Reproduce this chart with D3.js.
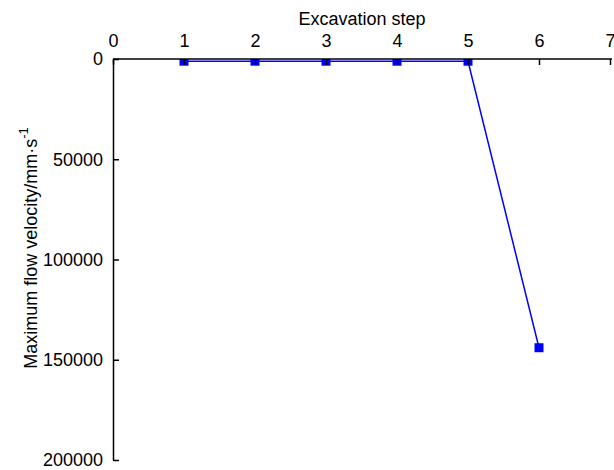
<!DOCTYPE html>
<html>
<head>
<meta charset="utf-8">
<script src="https://cdn.jsdelivr.net/npm/d3@7"></script>
<style>
  body { margin: 0; background: #fff; }
  text { font-family: "Liberation Sans", Arial, sans-serif; }
</style>
</head>
<body>
<div id="chart-area"></div>
<script>
var steps = [1, 2, 3, 4, 5, 6]
var velocity = [1100, 1100, 1100, 1100, 1100, 144000]
var xTicks = [0, 1, 2, 3, 4, 5, 6, 7]
var yTicks = [0, 50000, 100000, 150000, 200000]

var margin = { left: 113, right: 2, top: 59, bottom: 10 }
var ab_width = 614
var ab_height = 470
var width = ab_width - margin.left - margin.right,
    height = ab_height - margin.top - margin.bottom;

var svg = d3.select('#chart-area')
    .append('svg')
    .attr('width', ab_width)
    .attr('height', ab_height)

var g = svg.append('g')
    .attr('transform', 'translate(' + margin.left + ', ' + margin.top + ')');

var x = d3.scaleLinear().domain([0, 7]).range([0, 497])
var y = d3.scaleLinear().domain([0, 200000]).range([0, 401])

// top axis, ticks pointing into the plot
var xAxis = g.append('g')
    .call(d3.axisTop(x).tickValues(xTicks).tickFormat(d3.format('d')).tickSize(-6).tickPadding(12).tickSizeOuter(0))
xAxis.select('.domain').attr('stroke', '#000').attr('stroke-width', 1.5)
    .attr('d', 'M0,0H' + width)
xAxis.selectAll('.tick line').attr('stroke', '#000').attr('stroke-width', 1.5)
xAxis.selectAll('.tick text').attr('font-size', 18).attr('fill', '#000')
    .attr('font-family', '"Liberation Sans", Arial, sans-serif')

var yAxis = g.append('g')
    .call(d3.axisLeft(y).tickValues(yTicks).tickFormat(d3.format('d')).tickSize(-6).tickPadding(10).tickSizeOuter(0))
yAxis.select('.domain').attr('stroke', '#000').attr('stroke-width', 1.5)
yAxis.selectAll('.tick line').attr('stroke', '#000').attr('stroke-width', 1.5)
yAxis.selectAll('.tick text').attr('font-size', 18).attr('fill', '#000')
    .attr('font-family', '"Liberation Sans", Arial, sans-serif')

// titles
svg.append('text')
    .attr('x', 362)
    .attr('y', 25)
    .attr('text-anchor', 'middle')
    .attr('font-size', 18)
    .text('Excavation step')

var yl = svg.append('text')
    .attr('transform', 'translate(37, 248) rotate(-90)')
    .attr('text-anchor', 'middle')
    .attr('font-size', 18)
yl.append('tspan').text('Maximum flow velocity/mm\u00b7s')
yl.append('tspan').attr('dy', -9).attr('font-size', 13).text('-1')

// clip so markers sit under the top axis
svg.append('clipPath').attr('id', 'plot-clip')
  .append('rect').attr('x', 0).attr('y', 0).attr('width', width + 2).attr('height', height)

var plot = g.append('g').attr('clip-path', 'url(#plot-clip)')

var line = d3.line()
    .x(function(d, i) { return x(steps[i]) })
    .y(function(d) { return y(d) })

plot.append('path')
    .datum(velocity)
    .attr('d', line)
    .attr('fill', 'none')
    .attr('stroke', '#0000ff')
    .attr('stroke-width', 1.5)

plot.selectAll('rect.pt').data(velocity)
  .enter()
  .append('rect')
    .attr('class', 'pt')
    .attr('x', function(d, i) { return x(steps[i]) - 4.5 })
    .attr('y', function(d) { return y(d) - 4.5 })
    .attr('width', 9)
    .attr('height', 9)
    .attr('fill', '#0000ff')

xAxis.raise()
</script>
</body>
</html>
